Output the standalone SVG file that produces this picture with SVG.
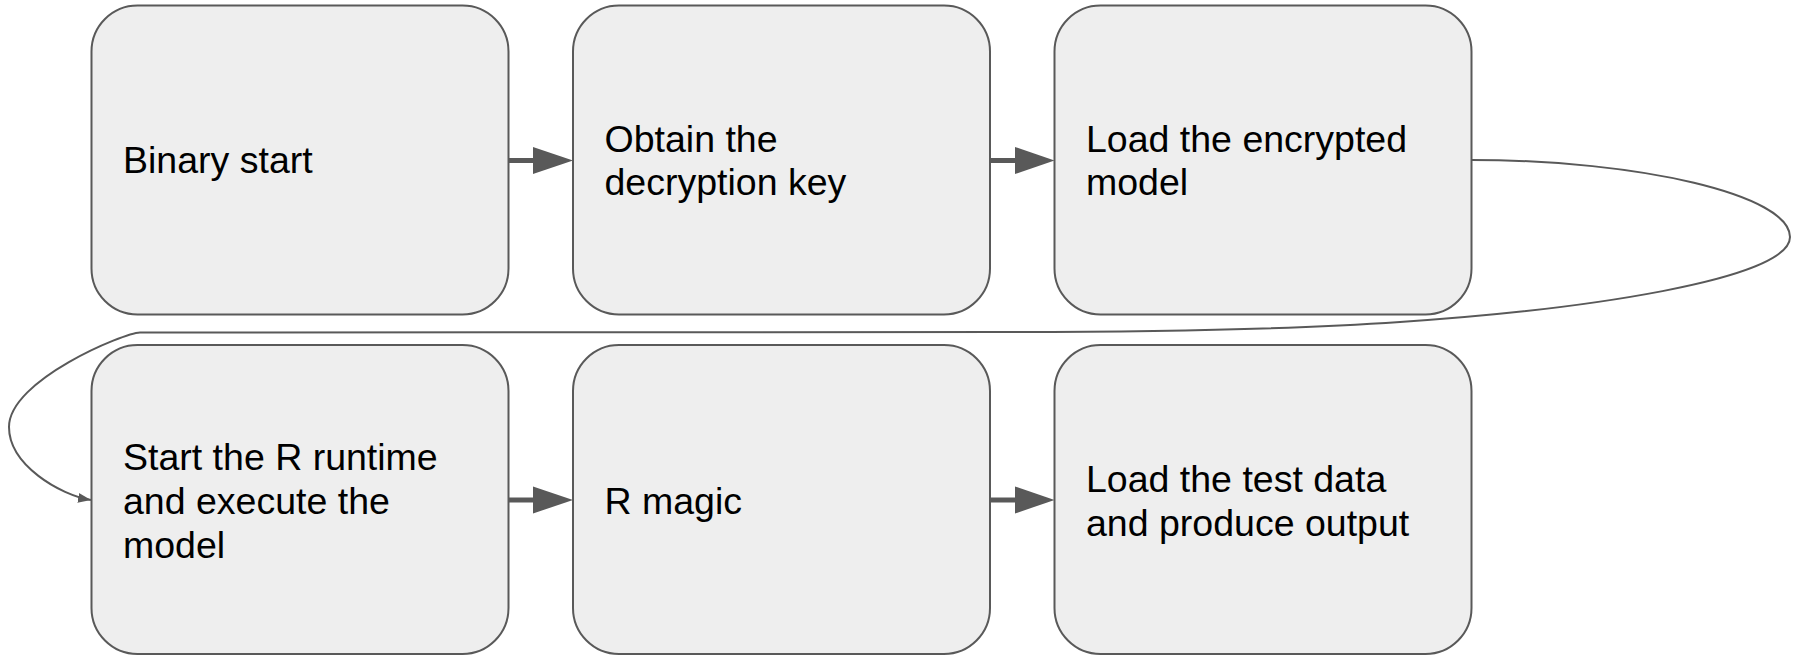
<svg xmlns="http://www.w3.org/2000/svg" width="1798" height="656" viewBox="0 0 1798 656">
<style>
.box{fill:#eeeeee;stroke:#595959;stroke-width:2}
.lbl{font-family:"Liberation Sans",Arial,sans-serif;font-size:37.5px;fill:#000}
.thick{stroke:#595959;stroke-width:5;fill:none}
.head{fill:#595959}
.curve{stroke:#595959;stroke-width:2;fill:none}
</style>
<defs>
<marker id="sm" markerUnits="userSpaceOnUse" markerWidth="14" markerHeight="12" refX="13" refY="5" orient="auto" viewBox="0 0 14 10">
<path d="M0,0 L13,5 L0,10 z" fill="#595959"/>
</marker>
</defs>
<rect width="1798" height="656" fill="#ffffff"/>
<g id="n1"><rect class="box" x="91.5" y="5.5" width="417" height="309" rx="46"/>
<text class="lbl" x="123" y="173">Binary start</text></g>
<g id="n2"><rect class="box" x="573" y="5.5" width="417" height="309" rx="46"/>
<text class="lbl" x="604.5" y="151.5">Obtain the</text><text class="lbl" x="604.5" y="195">decryption key</text></g>
<g id="n3"><rect class="box" x="1054.5" y="5.5" width="417" height="309" rx="46"/>
<text class="lbl" x="1086" y="151.5">Load the encrypted</text><text class="lbl" x="1086" y="195">model</text></g>
<g id="n4"><rect class="box" x="91.5" y="345" width="417" height="309" rx="46"/>
<text class="lbl" x="123" y="469.5">Start the R runtime</text><text class="lbl" x="123" y="513.5">and execute the</text><text class="lbl" x="123" y="557.5">model</text></g>
<g id="n5"><rect class="box" x="573" y="345" width="417" height="309" rx="46"/>
<text class="lbl" x="604.5" y="513.5">R magic</text></g>
<g id="n6"><rect class="box" x="1054.5" y="345" width="417" height="309" rx="46"/>
<text class="lbl" x="1086" y="491.5">Load the test data</text><text class="lbl" x="1086" y="535.5">and produce output</text></g>
<g id="connectors">
<line class="thick" x1="509" y1="160.5" x2="536" y2="160.5"/>
<polygon class="head" points="533,147 573,160.5 533,174"/>
<line class="thick" x1="990.5" y1="160.5" x2="1017" y2="160.5"/>
<polygon class="head" points="1015,147 1054.5,160.5 1015,174"/>
<line class="thick" x1="509" y1="500" x2="536" y2="500"/>
<polygon class="head" points="533,486.5 573,500 533,513.5"/>
<line class="thick" x1="990.5" y1="500" x2="1017" y2="500"/>
<polygon class="head" points="1015,486.5 1054.5,500 1015,513.5"/>
<path class="curve" marker-end="url(#sm)" d="M1471.5,160 C1640,160 1790,195 1790,237 C1790,280 1580,310 1400,322 C1300,329 1150,332 1000,332 L140,332.5 C125,332.5 9,380 9,427 C9,465 60,495 91,500"/>
</g>
</svg>
